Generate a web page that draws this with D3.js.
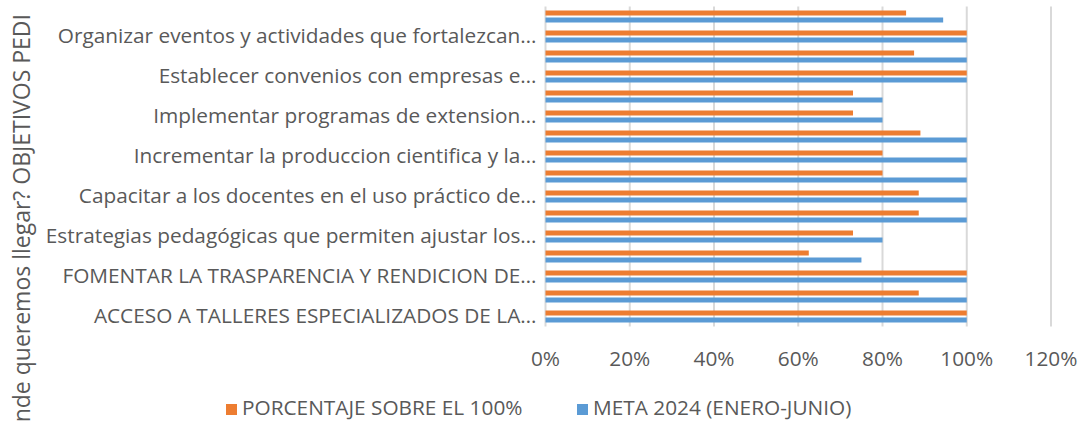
<!DOCTYPE html>
<html>
<head>
<meta charset="utf-8">
<script src="https://cdn.jsdelivr.net/npm/d3@7"></script>
<style>
  body { margin: 0; background: #fff; }
  svg text { font-family: "Open Sans", "Noto Sans", sans-serif; fill: #595959; }
</style>
</head>
<body>
<div id="chart"></div>
<script>
// Categories from top to bottom; null = label skipped on the axis
const CATEGORIES = [
  null,
  "Organizar eventos y actividades que fortalezcan…",
  null,
  "Establecer convenios con empresas e…",
  null,
  "Implementar programas de extension…",
  null,
  "Incrementar la produccion cientifica y la…",
  null,
  "Capacitar a los docentes en el uso práctico de…",
  null,
  "Estrategias pedagógicas que permiten ajustar los…",
  null,
  "FOMENTAR LA TRASPARENCIA Y RENDICION DE…",
  null,
  "ACCESO A TALLERES ESPECIALIZADOS DE LA…"
];

const PORCENTAJE = [0.856, 1, 0.875, 1, 0.73, 0.73, 0.89, 0.80, 0.80, 0.886, 0.886, 0.73, 0.625, 1, 0.886, 1];
const META = [0.944, 1, 1, 1, 0.80, 0.80, 1, 1, 1, 1, 1, 0.80, 0.75, 1, 1, 1];

const X_TICKS = [0, 0.2, 0.4, 0.6, 0.8, 1.0, 1.2];

const SERIES = [
  { name: "PORCENTAJE SOBRE EL 100%", values: PORCENTAJE, color: "#ED7D31" },
  { name: "META 2024 (ENERO-JUNIO)", values: META, color: "#5B9BD5" }
];

const Y_TITLE = "¿A dónde queremos llegar? OBJETIVOS PEDI";

const W = 1080, H = 421;
const plot = { left: 545.5, right: 1051, top: 6.5, bottom: 326.5 };

const svg = d3.select('#chart')
  .append('svg')
  .attr('width', W)
  .attr('height', H);

const x = d3.scaleLinear()
  .domain([0, 1.2])
  .range([plot.left, plot.right]);

const y = d3.scaleBand()
  .domain(d3.range(CATEGORIES.length))
  .range([plot.top, plot.bottom]);

// two thin bars per category, small gap between them
const sub = d3.scaleBand()
  .domain(d3.range(SERIES.length))
  .range([0, y.bandwidth()])
  .paddingInner(0.2857)
  .paddingOuter(0.571);

// Vertical gridlines
svg.append('g')
  .selectAll('line')
  .data(X_TICKS)
  .enter()
  .append('line')
  .attr('x1', d => x(d))
  .attr('x2', d => x(d))
  .attr('y1', plot.top)
  .attr('y2', plot.bottom)
  .style('stroke', '#d9d9d9')
  .style('stroke-width', 2);

// Bars
SERIES.forEach((s, si) => {
  svg.append('g')
    .selectAll('rect')
    .data(s.values)
    .enter()
    .append('rect')
    .attr('x', x(0))
    .attr('y', (d, i) => y(i) + sub(si))
    .attr('width', d => x(d) - x(0))
    .attr('height', sub.bandwidth())
    .style('fill', s.color);
});

// Category labels
svg.append('g')
  .selectAll('text')
  .data(CATEGORIES.map((c, i) => ({ c, i })).filter(d => d.c))
  .enter()
  .append('text')
  .attr('x', plot.left - 9)
  .attr('y', d => y(d.i) + y.bandwidth() / 2 - 1)
  .attr('dy', '0.35em')
  .attr('text-anchor', 'end')
  .style('font-size', '20.8px')
  .text(d => d.c);

// X tick labels
svg.append('g')
  .selectAll('text')
  .data(X_TICKS)
  .enter()
  .append('text')
  .attr('x', d => x(d))
  .attr('y', 359)
  .attr('dy', '0.35em')
  .attr('text-anchor', 'middle')
  .style('font-size', '20.8px')
  .text(d => d3.format('.0%')(d));

// Y axis title (runs off the bottom like the original)
svg.append('text')
  .attr('transform', 'translate(30,14) rotate(-90)')
  .attr('text-anchor', 'end')
  .style('font-size', '23px')
  .text(Y_TITLE);

// Legend
const legendPos = [226, 577];
const legend = svg.append('g')
  .selectAll('g')
  .data(SERIES)
  .enter()
  .append('g')
  .attr('transform', (d, i) => `translate(${legendPos[i]}, 408)`);

legend.append('rect')
  .attr('x', 0)
  .attr('y', -4)
  .attr('width', 11)
  .attr('height', 11)
  .style('fill', d => d.color);

legend.append('text')
  .attr('x', 16)
  .attr('y', 0)
  .attr('dy', '0.35em')
  .style('font-size', '20.8px')
  .text(d => d.name);
</script>
</body>
</html>
